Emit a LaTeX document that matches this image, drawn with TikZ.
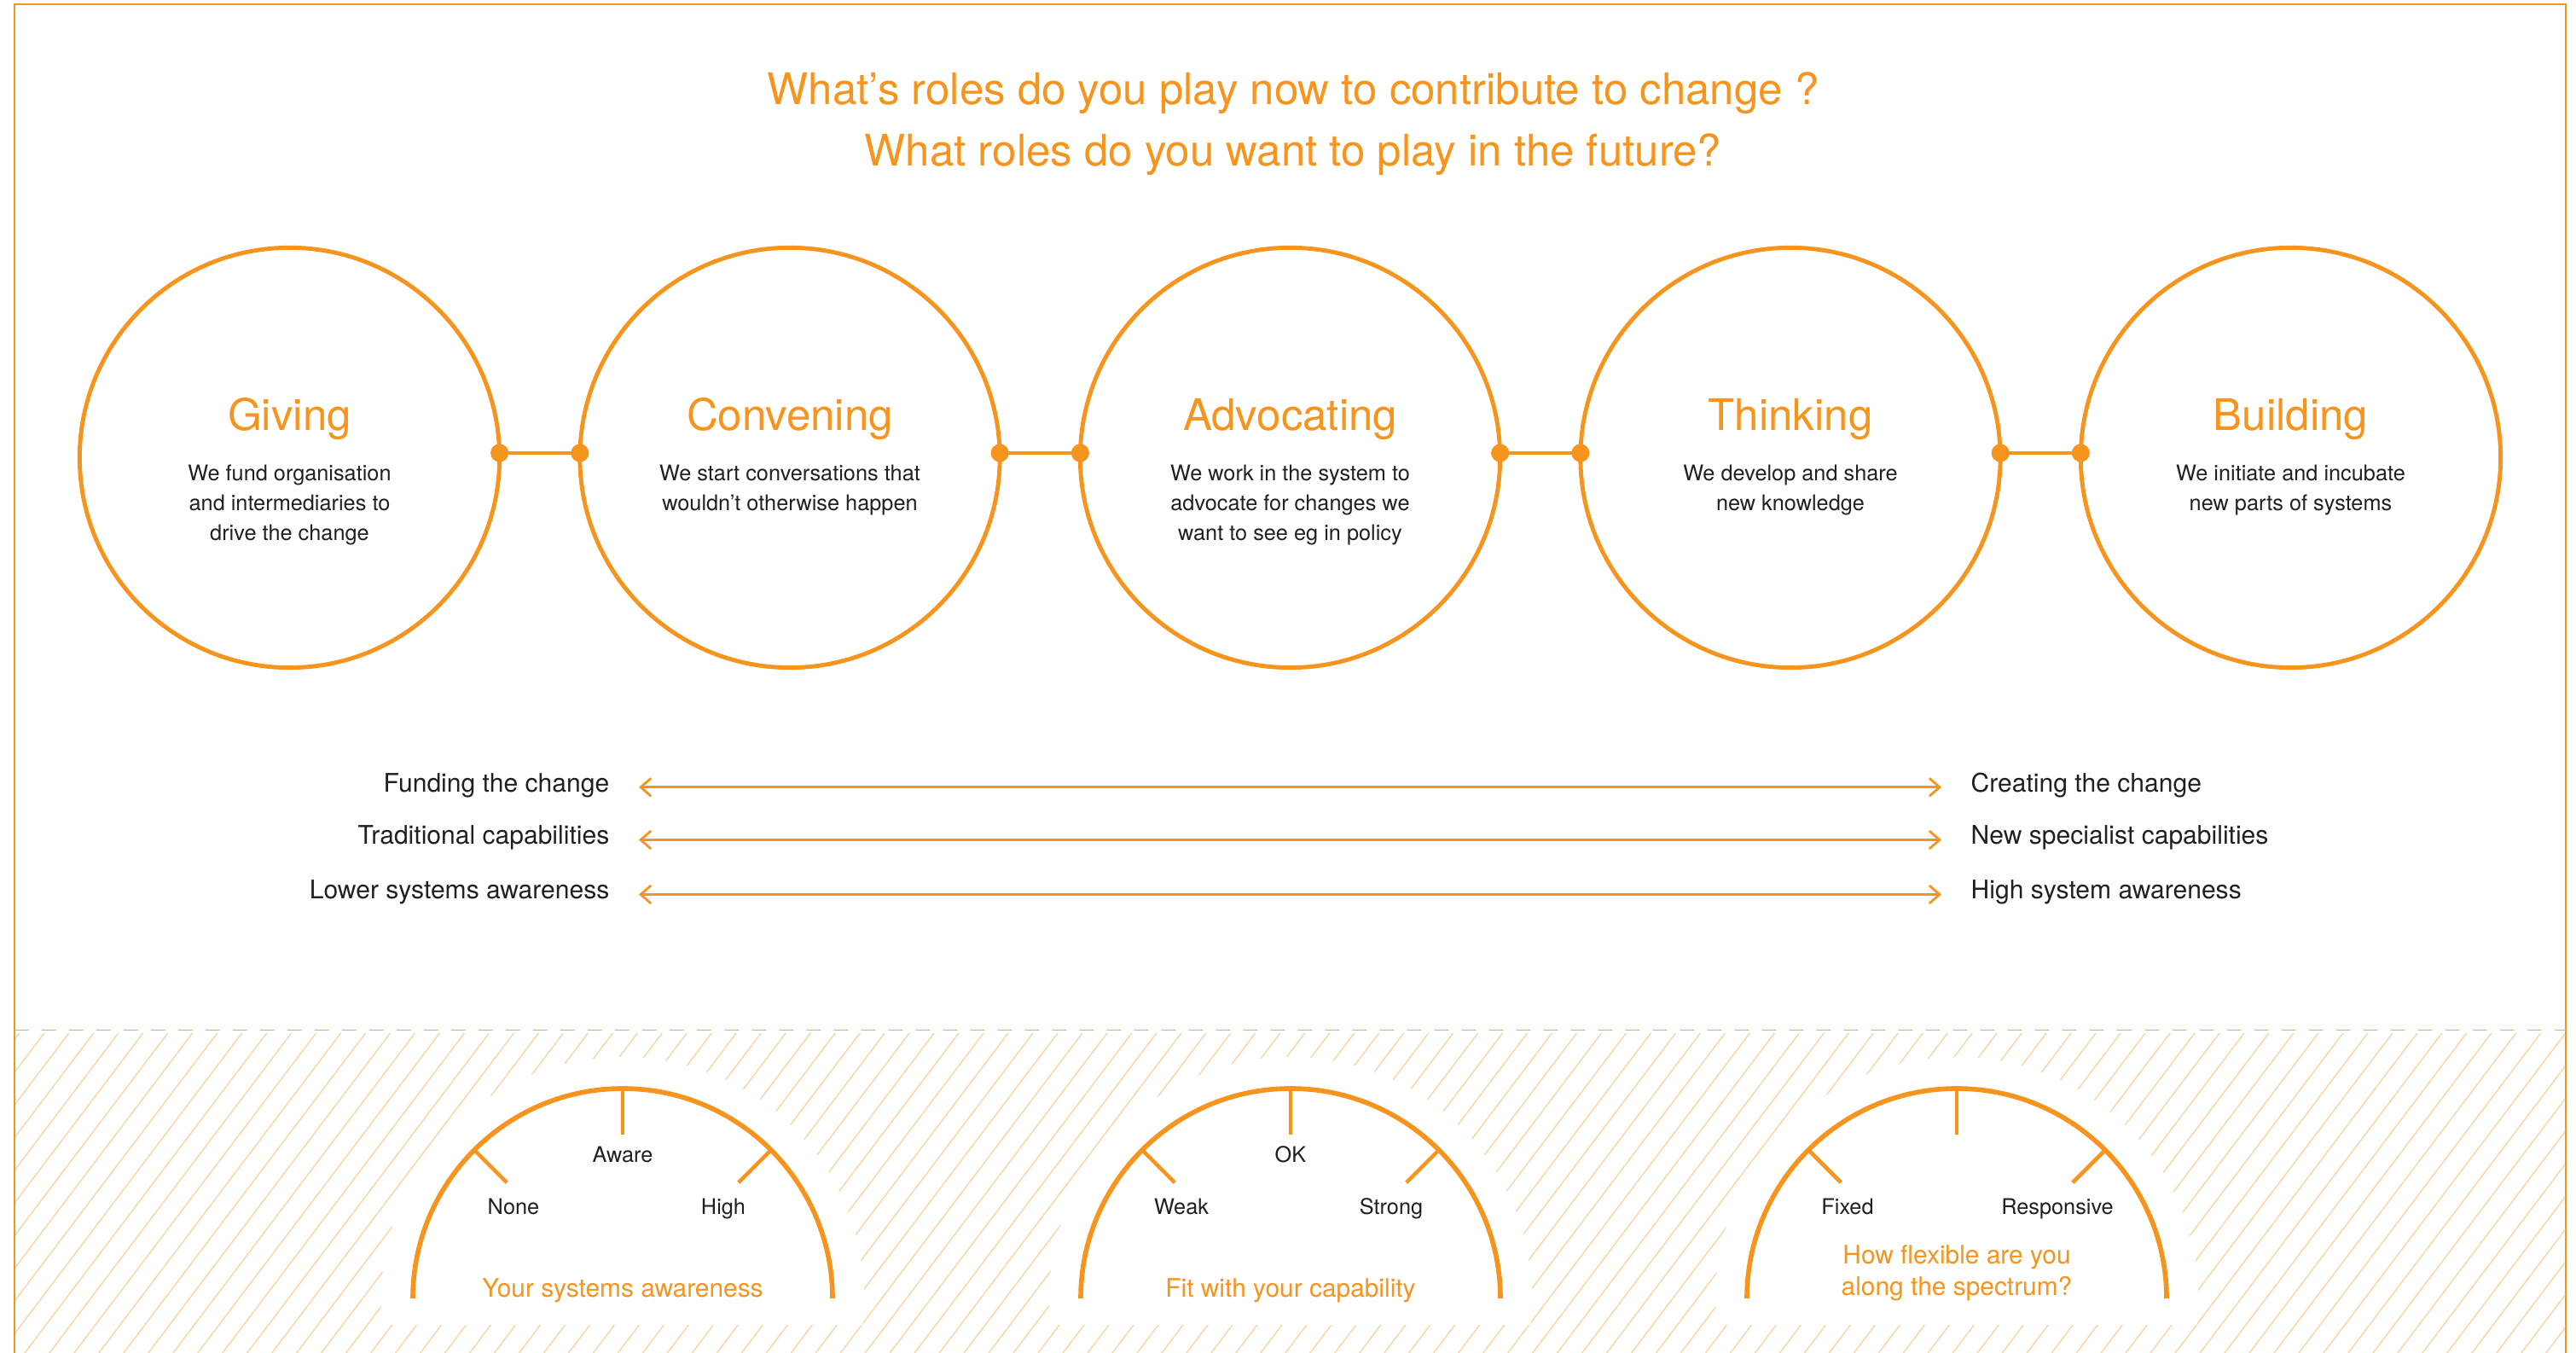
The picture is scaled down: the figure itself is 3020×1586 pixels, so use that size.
\documentclass[tikz,border=0pt]{standalone}
\usepackage{fontspec}
\setmainfont{TeX Gyre Heros}
\usepackage{tikz}
\usetikzlibrary{arrows.meta,patterns.meta}
\definecolor{brand}{RGB}{247,148,29}
\definecolor{ink}{RGB}{35,31,32}

\begin{document}
\begin{tikzpicture}[x=0.01cm,y=-0.01cm]

\tikzset{role/.style = {shape=circle,draw=brand,line width=1.4pt,minimum size=4.92cm,inner sep=0pt,outer sep=0pt}}
\tikzset{head/.style = {text=brand,font=\fontsize{14.5}{17}\selectfont,anchor=base,inner sep=0pt}}
\tikzset{desc/.style = {text=ink,font=\fontsize{7.2}{9.96}\selectfont,align=center,anchor=base,inner sep=0pt}}
\tikzset{link/.style = {{Circle[length=0.21cm]}-{Circle[length=0.21cm]},draw=brand,line width=1.4pt,shorten <=-0.105cm,shorten >=-0.105cm}}
\tikzset{pole/.style = {text=ink,font=\fontsize{8.55}{10}\selectfont,inner sep=0pt}}
\tikzset{bar/.style = {{Straight Barb[length=0.12cm,width=0.21cm]}-{Straight Barb[length=0.12cm,width=0.21cm]},draw=brand,line width=0.8pt}}
\tikzset{dial/.style = {draw=brand,line width=1.6pt}}
\tikzset{dialtick/.style = {draw=brand,line width=1.3pt}}
\tikzset{reading/.style = {text=ink,font=\fontsize{7.2}{9.96}\selectfont,anchor=base,inner sep=0pt}}
\tikzset{dialcaption/.style = {text=brand,font=\fontsize{8.5}{10.24}\selectfont,align=center,anchor=base,inner sep=0pt}}

\useasboundingbox (0,0) rectangle (3020,1586);

\draw[brand,line width=0.65pt] (17,1586) -- (17,5) -- (3008,5) -- (3008,1586);

\node[text=brand,font=\fontsize{14.5}{20.6}\selectfont,align=center,anchor=base,inner sep=0pt] (question) at (1516,195) {What’s roles do you play now to contribute to change ?\\What roles do you want to play in the future?};

\node[role] (giving) at (339.5,536.5) {};
\node[role] (convening) at (926,536.5) {};
\node[role] (advocating) at (1512.5,536.5) {};
\node[role] (thinking) at (2099,536.5) {};
\node[role] (building) at (2685.5,536.5) {};

\node[head] (givinghead) at (339.5,505) {Giving};
\node[head] (conveninghead) at (926,505) {Convening};
\node[head] (advocatinghead) at (1512.5,505) {Advocating};
\node[head] (thinkinghead) at (2099,505) {Thinking};
\node[head] (buildinghead) at (2685.5,505) {Building};

\node[desc] (givingtext) at (339.5,633.3) {We fund organisation\\and intermediaries to\\drive the change};
\node[desc] (conveningtext) at (926,598.3) {We start conversations that\\wouldn’t otherwise happen};
\node[desc] (advocatingtext) at (1512.5,633.3) {We work in the system to\\advocate for changes we\\want to see eg in policy};
\node[desc] (thinkingtext) at (2099,598.3) {We develop and share\\new knowledge};
\node[desc] (buildingtext) at (2685.5,598.3) {We initiate and incubate\\new parts of systems};

\draw[link] ([yshift=0.055cm]giving.east) -- ([yshift=0.055cm]convening.west);
\draw[link] ([yshift=0.055cm]convening.east) -- ([yshift=0.055cm]advocating.west);
\draw[link] ([yshift=0.055cm]advocating.east) -- ([yshift=0.055cm]thinking.west);
\draw[link] ([yshift=0.055cm]thinking.east) -- ([yshift=0.055cm]building.west);

\node[pole,anchor=base east] (funding) at (715,928.3) {Funding the change};
\node[pole,anchor=base west] (creating) at (2310,928.3) {Creating the change};
\node[pole,anchor=base east] (traditional) at (715,990) {Traditional capabilities};
\node[pole,anchor=base west] (specialist) at (2310,990) {New specialist capabilities};
\node[pole,anchor=base east] (lower) at (715,1054) {Lower systems awareness};
\node[pole,anchor=base west] (high) at (2310,1054) {High system awareness};

\draw[bar] ([shift={(34,-5.5)}]funding.base east) -- ([shift={(-34,-5.5)}]creating.base west);
\draw[bar] ([shift={(34,-5.5)}]traditional.base east) -- ([shift={(-34,-5.5)}]specialist.base west);
\draw[bar] ([shift={(34,-5.5)}]lower.base east) -- ([shift={(-34,-5.5)}]high.base west);

\draw[brand!85,line width=0.5pt,dash pattern=on 0.16cm off 0.16cm] (17,1207.5) -- (3008,1207.5);
\fill[pattern={Lines[angle=52.9,distance=0.231cm,line width=0.4pt]},pattern color=brand!40] (18,1212) rectangle (3007,1586);

\coordinate (awareness) at (730,1522);
\coordinate (capability) at (1513,1522);
\coordinate (flexibility) at (2294,1522);

\begin{scope}
\clip (0,0) rectangle (3020,1552);
\fill[white] (awareness) circle[radius=283];
\fill[white] (capability) circle[radius=283];
\fill[white] (flexibility) circle[radius=283];
\end{scope}

\draw[dial] ([shift={(180:246)}]awareness) arc[start angle=180,end angle=360,radius=246];
\draw[dialtick] ([shift={(-90:246)}]awareness) -- ([shift={(-90:192)}]awareness);
\draw[dialtick] ([shift={(-135:246)}]awareness) -- ([shift={(-135:192)}]awareness);
\draw[dialtick] ([shift={(-45:246)}]awareness) -- ([shift={(-45:192)}]awareness);
\node[reading] (aware) at (730,1363) {Aware};
\node[reading] (none) at (602,1424) {None};
\node[reading] (highaware) at (848,1424) {High};
\node[dialcaption] (awarenesscap) at (730,1521) {Your systems awareness};

\draw[dial] ([shift={(180:246)}]capability) arc[start angle=180,end angle=360,radius=246];
\draw[dialtick] ([shift={(-90:246)}]capability) -- ([shift={(-90:192)}]capability);
\draw[dialtick] ([shift={(-135:246)}]capability) -- ([shift={(-135:192)}]capability);
\draw[dialtick] ([shift={(-45:246)}]capability) -- ([shift={(-45:192)}]capability);
\node[reading] (ok) at (1513,1363) {OK};
\node[reading] (weak) at (1385,1424) {Weak};
\node[reading] (strong) at (1631,1424) {Strong};
\node[dialcaption] (capabilitycap) at (1513,1521) {Fit with your capability};

\draw[dial] ([shift={(180:246)}]flexibility) arc[start angle=180,end angle=360,radius=246];
\draw[dialtick] ([shift={(-90:246)}]flexibility) -- ([shift={(-90:192)}]flexibility);
\draw[dialtick] ([shift={(-135:246)}]flexibility) -- ([shift={(-135:192)}]flexibility);
\draw[dialtick] ([shift={(-45:246)}]flexibility) -- ([shift={(-45:192)}]flexibility);
\node[reading] (fixed) at (2166,1424) {Fixed};
\node[reading] (responsive) at (2412,1424) {Responsive};
\node[dialcaption] (flexibilitycap) at (2294,1518) {How flexible are you\\along the spectrum?};

\end{tikzpicture}
\end{document}
